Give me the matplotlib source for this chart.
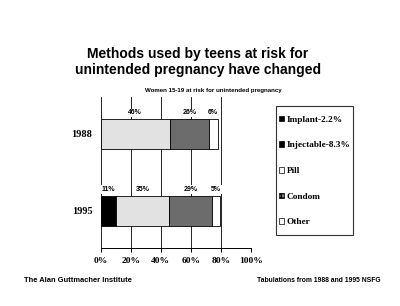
import matplotlib
matplotlib.use("Agg")
import matplotlib.pyplot as plt
from matplotlib.patches import Patch, Rectangle

# data
years = ["1995", "1988"]
methods = ["Implant", "Injectable", "Pill", "Condom", "Other"]
share_1995 = [2.2, 8.3, 35, 29, 5]
share_1988 = [0, 0, 46, 26, 6]
labels_1995 = ["11%", "", "35%", "29%", "5%"]
labels_1988 = ["", "", "46%", "26%", "6%"]
legend_labels = ["Implant-2.2%", "Injectable-8.3%", "Pill", "Condom", "Other"]
x_ticks = [0, 20, 40, 60, 80, 100]

colors = ["#000000", "#000000", "#e2e2e2", "#6c6c6c", "#ffffff"]
serif = "Liberation Serif"
sans = "Liberation Sans"

fig = plt.figure(figsize=(4.0, 3.06), dpi=100)
ax = fig.add_axes([0.2518, 0.1905, 0.375, 0.4925])

rows = [share_1995, share_1988]
row_labels = [labels_1995, labels_1988]
for yi, (vals, labs) in enumerate(zip(rows, row_labels)):
    left = 0
    for v, c, lab in zip(vals, colors, labs):
        if v > 0:
            ax.barh(yi, v, left=left, height=0.39, color=c,
                    edgecolor="black", linewidth=0.6, zorder=3)
        if lab:
            # the 11% label covers implant + injectable together
            w = v if lab != "11%" else vals[0] + vals[1]
            ax.text(left + w / 2, yi + 0.275, lab, ha="center", va="center",
                    fontsize=5.0, fontweight="bold", family=sans,
                    bbox=dict(facecolor="white", edgecolor="none", pad=0.5),
                    zorder=4)
        left += v

ax.set_xlim(0, 100)
ax.set_ylim(-0.48, 1.48)
ax.set_xticks(x_ticks)
ax.set_xticklabels([f"{t}%" for t in x_ticks], family=serif,
                   fontweight="bold", fontsize=6.8)
ax.set_yticks([0, 1])
ax.set_yticklabels(years, family=serif, fontweight="bold", fontsize=7.5)
ax.tick_params(axis="y", length=0, pad=6)
ax.tick_params(axis="x", length=3, width=0.7, direction="out", pad=4)
ax.xaxis.grid(True, color="black", linewidth=0.6, zorder=0)
ax.set_axisbelow(True)
for side in ["top", "right", "left"]:
    ax.spines[side].set_visible(False)
ax.spines["bottom"].set_linewidth(0.7)

# legend: tall box with tight side padding, so frame drawn separately
handles = [Patch(facecolor=c, edgecolor="black", linewidth=0.5,
                 hatch="++++" if m == "Condom" else None)
           for c, m in zip(colors, methods)]
handles[3].set_facecolor("#8a8a8a")
handles[2].set_facecolor("#ffffff")
fig.legend(handles, legend_labels, loc="center left",
           bbox_to_anchor=(276 / 400, 1 - 171 / 306),
           prop={"family": serif, "weight": "bold", "size": 6.7},
           frameon=False, handlelength=0.55, handleheight=0.55,
           handletextpad=0.3, labelspacing=1.88, borderpad=0.3,
           borderaxespad=0)
fig.add_artist(Rectangle((276 / 400, 1 - 235 / 306), 77 / 400, 129 / 306,
                         transform=fig.transFigure, fill=False,
                         edgecolor="#333333", linewidth=0.8))

fig.text(0.495, 1 - 62 / 306,
         "Methods used by teens at risk for\nunintended pregnancy have changed",
         ha="center", va="center", fontsize=10, fontweight="bold",
         family=sans, linespacing=1.2)
fig.text(213 / 400, 1 - 90 / 306, "Women 15-19 at risk for unintended pregnancy",
         ha="center", va="center", fontsize=4.4, fontweight="bold", family=sans)
fig.text(24 / 400, 1 - 280 / 306, "The Alan Guttmacher Institute",
         ha="left", va="center", fontsize=5.4, fontweight="bold", family=sans)
fig.text(381 / 400, 1 - 280 / 306, "Tabulations from 1988 and 1995 NSFG",
         ha="right", va="center", fontsize=4.9, fontweight="bold", family=sans)

fig.savefig("out.png", dpi=100, facecolor="white")
